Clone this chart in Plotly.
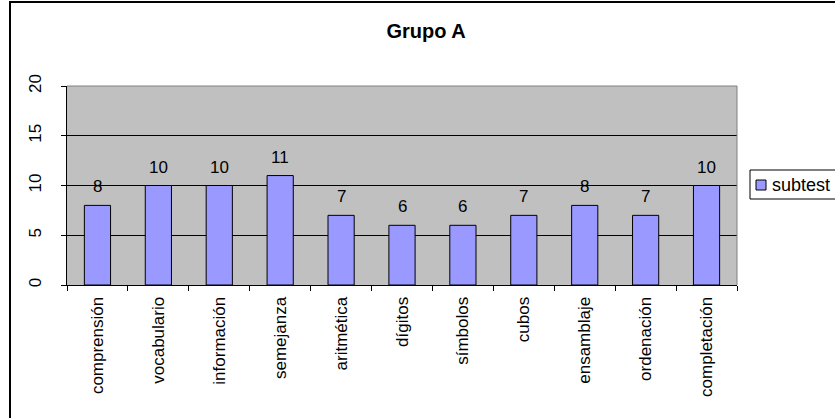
import plotly.graph_objects as go

# Subtest scores for group A
subtests = ["comprensión", "vocabulario", "información", "semejanza", "aritmética",
            "dígitos", "símbolos", "cubos", "ensamblaje", "ordenación", "completación"]
scores = [8, 10, 10, 11, 7, 6, 6, 7, 8, 7, 10]
y_ticks = [0, 5, 10, 15, 20]
series_name = "subtest"

W, H = 835, 418
ml, mr, mt, mb = 67, 98, 86, 133
pw, ph = W - ml - mr, H - mt - mb

FAMILY = "Liberation Sans, Arial, sans-serif"
font = dict(family=FAMILY, size=17, color="black")
BAR_COLOR = "#9999FF"


def px_x(px):
    """pixel column -> paper x"""
    return (px - ml) / pw


def px_y(py):
    """pixel row -> paper y"""
    return 1 - (py - mt) / ph


fig = go.Figure(
    go.Bar(
        x=subtests,
        y=scores,
        name=series_name,
        width=0.43,
        marker=dict(color=BAR_COLOR, line=dict(color="black", width=1)),
        showlegend=False,
    )
)

# value labels above each bar
for name, val in zip(subtests, scores):
    fig.add_annotation(x=name, y=val, text=str(val), showarrow=False,
                       xref="x", yref="y", yanchor="bottom", yshift=7,
                       font=font)

fig.update_layout(
    width=W,
    height=H,
    margin=dict(l=ml, r=mr, t=mt, b=mb, pad=0, autoexpand=False),
    paper_bgcolor="white",
    plot_bgcolor="#C0C0C0",
    font=font,
    title=dict(text="<b>Grupo A</b>", x=426 / W, xref="container", xanchor="center",
               y=1 - 31 / H, yref="container", yanchor="middle",
               font=dict(size=20, color="black", family=FAMILY)),
    showlegend=False,
)

fig.update_xaxes(
    type="category",
    automargin=False,
    tickangle=-90,
    tickson="boundaries",
    ticks="outside", ticklen=5, tickcolor="black", tickwidth=1,
    ticklabelstandoff=4,
    showline=True, linecolor="black", linewidth=1,
    showgrid=False,
    tickfont=font,
)

fig.update_yaxes(
    range=[0, 20],
    automargin=False,
    tickvals=y_ticks,
    ticktext=[str(t) for t in y_ticks],
    tickangle=-90,
    ticks="outside", ticklen=5, tickcolor="black", tickwidth=1,
    showline=True, linecolor="black", linewidth=1,
    showgrid=True, gridcolor="black", gridwidth=1,
    zeroline=False,
    tickfont=font,
    ticklabelstandoff=13,
)

# gray top/right edge of the plot area
fig.add_shape(type="line", xref="paper", yref="paper", x0=0, x1=1, y0=1, y1=1,
              line=dict(color="#808080", width=1))
fig.add_shape(type="line", xref="paper", yref="paper", x0=1, x1=1, y0=0, y1=1,
              line=dict(color="#808080", width=1))

# legend: framed box with a swatch and the series name
fig.add_shape(type="rect", xref="paper", yref="paper",
              x0=px_x(750), x1=px_x(836), y0=px_y(199), y1=px_y(170),
              line=dict(color="black", width=1), fillcolor="white")
fig.add_shape(type="rect", xref="paper", yref="paper",
              x0=px_x(756), x1=px_x(766), y0=px_y(190), y1=px_y(180),
              line=dict(color="black", width=1), fillcolor=BAR_COLOR)
fig.add_annotation(x=px_x(770), y=px_y(185), xref="paper", yref="paper",
                   text=series_name, showarrow=False, xanchor="left",
                   yanchor="middle", font=dict(family=FAMILY, size=18, color="black"))

# outer chart frame
fig.add_shape(type="rect", xref="paper", yref="paper",
              x0=(10 - ml) / pw, x1=1.5, y0=-1.0, y1=1 + (mt - 2) / ph,
              line=dict(color="black", width=2), fillcolor="rgba(0,0,0,0)", layer="below")

fig.write_html("out.html")
